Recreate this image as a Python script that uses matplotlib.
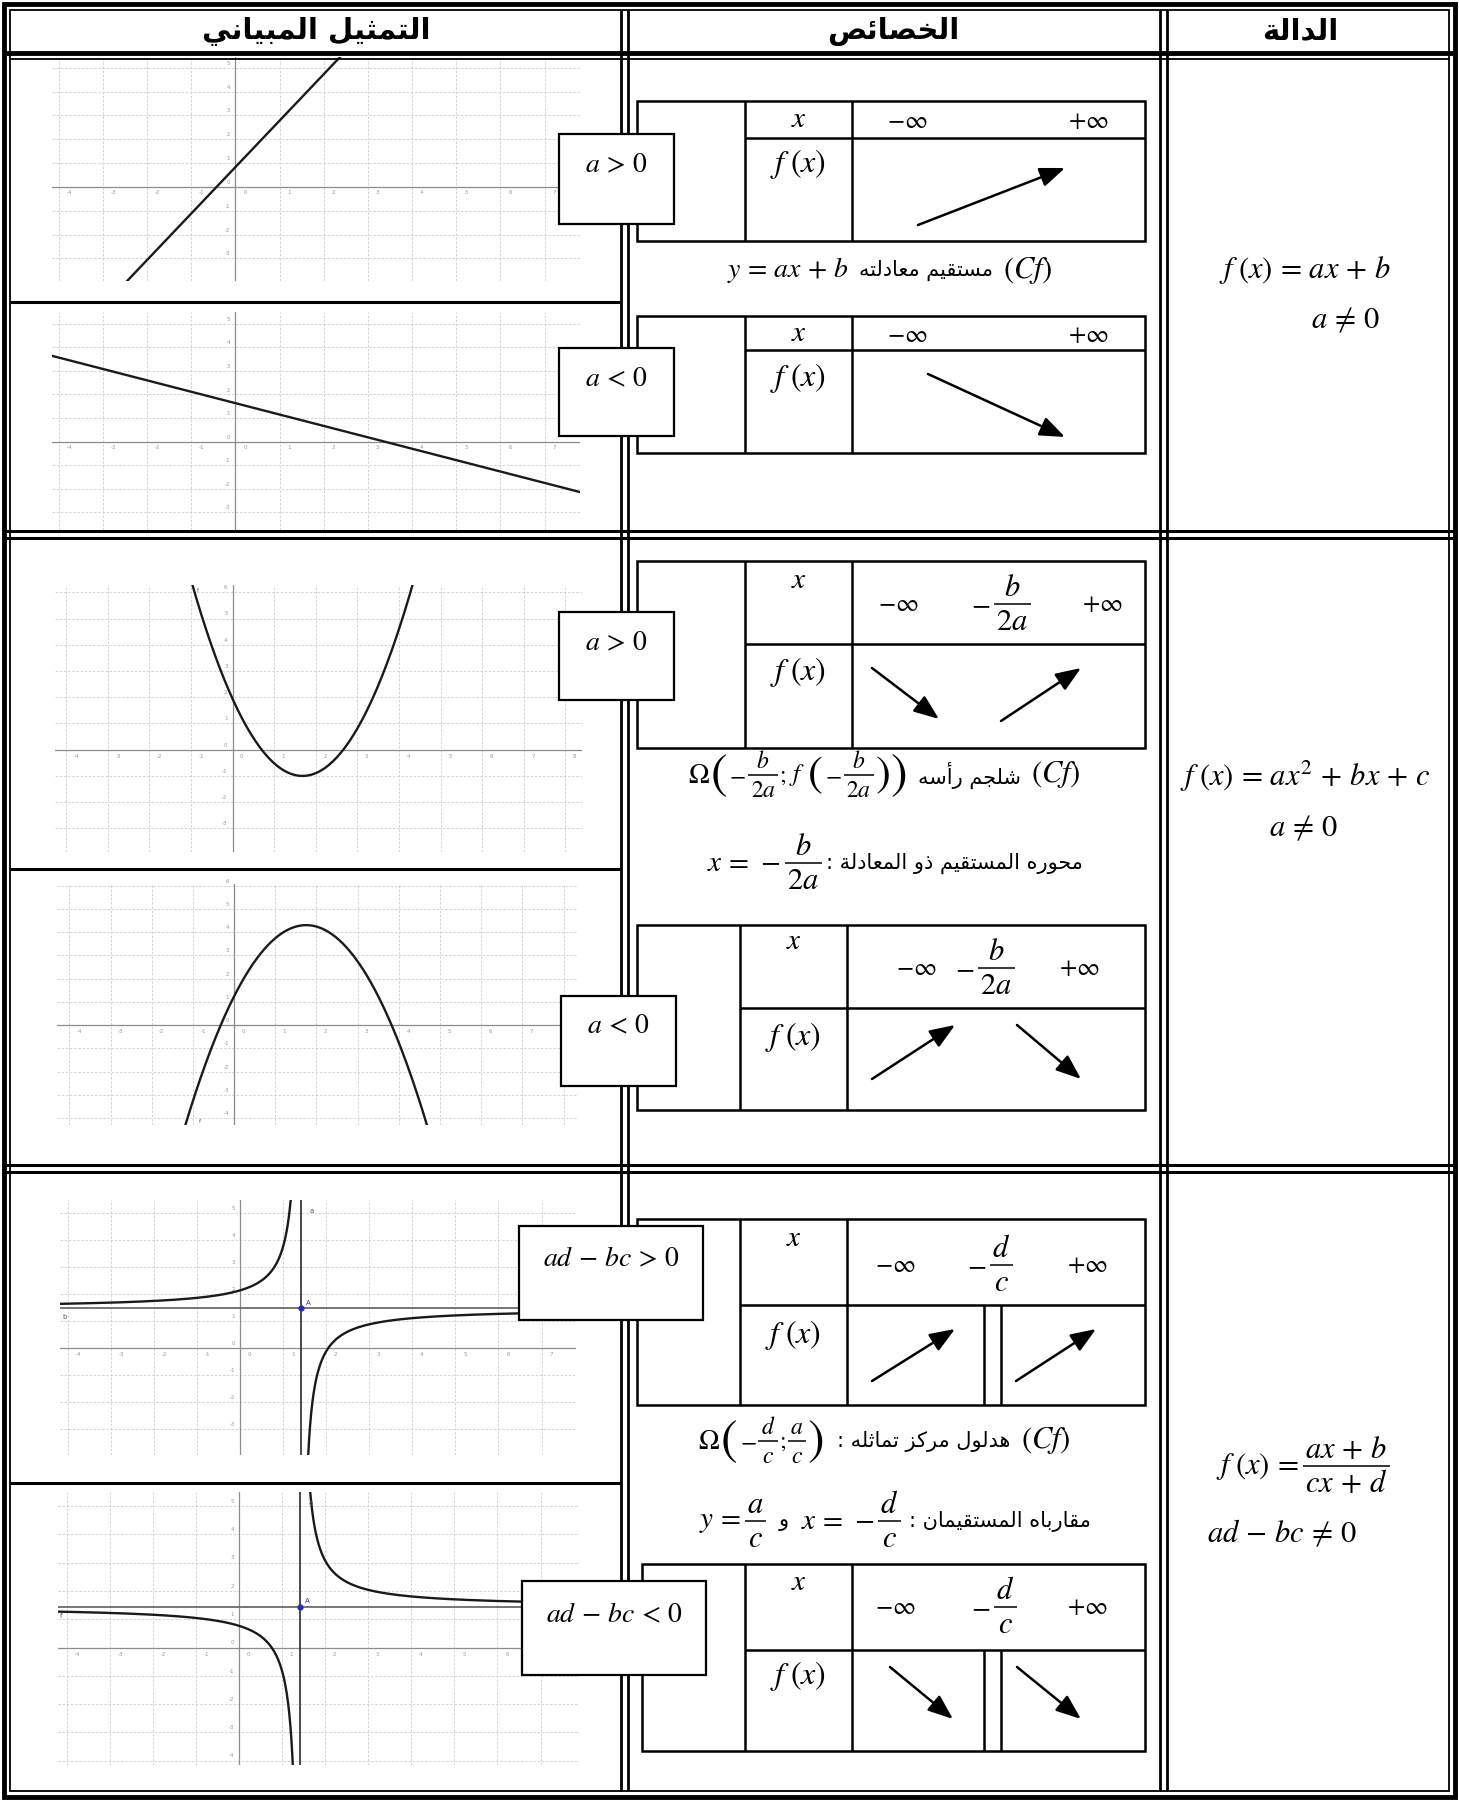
import numpy as np
import matplotlib.pyplot as plt
from matplotlib.patches import Rectangle

plt.rcParams['mathtext.fontset'] = 'stix'
plt.rcParams['font.family'] = ['DejaVu Sans']

# values
headers = ['التمثيل المبياني', 'الخصائص', 'الدالة']

lin_up_x = [-2.45, 2.37]
lin_up_y = [-3.95, 5.45]
lin_down_x = [-4.15, 7.8]
lin_down_y = [3.64, -2.14]
quad_up = [1.04, 1.68, -1.0]      # a, vertex x, vertex y
quad_down = [-1.0, 1.75, 4.3]
hyp_up = [-0.94, 1.41, 1.48]      # k, vertical asymptote, horizontal asymptote
hyp_down = [0.95, 1.42, 1.44]

cond_labels = [r'$a\,>\,0$', r'$a\,<\,0$', r'$a\,>\,0$', r'$a\,<\,0$',
               r'$ad\,-\,bc\,>\,0$', r'$ad\,-\,bc\,<\,0$']

W, H = 1459, 1800
fig = plt.figure(figsize=(W / 100, H / 100), dpi=100)

# small arabic shaper (matplotlib has no bidi / joining)
DUAL = {'ب': 0xFE8F, 'ت': 0xFE95, 'ث': 0xFE99, 'ج': 0xFE9D, 'ح': 0xFEA1,
        'خ': 0xFEA5, 'س': 0xFEB1, 'ش': 0xFEB5, 'ص': 0xFEB9, 'ع': 0xFEC9,
        'ف': 0xFED1, 'ق': 0xFED5, 'ك': 0xFED9, 'ل': 0xFEDD, 'م': 0xFEE1,
        'ن': 0xFEE5, 'ه': 0xFEE9, 'ي': 0xFEF1, 'ئ': 0xFE89}
RIGHT = {'ا': 0xFE8D, 'أ': 0xFE83, 'ة': 0xFE93, 'د': 0xFEA9, 'ذ': 0xFEAB,
         'ر': 0xFEAD, 'ز': 0xFEAF, 'و': 0xFEED}
LAM_ALEF = {'ا': 0xFEFB, 'أ': 0xFEF7}


def ar(s):
    out = []
    i = 0
    while i < len(s):
        c = s[i]
        linked = i > 0 and s[i - 1] in DUAL
        if c == 'ل' and i + 1 < len(s) and s[i + 1] in LAM_ALEF:
            out.append(chr(LAM_ALEF[s[i + 1]] + int(linked)))
            i += 2
            continue
        if c in DUAL or c in RIGHT:
            base = DUAL.get(c, RIGHT.get(c))
            nxt = c in DUAL and i + 1 < len(s) and (s[i + 1] in DUAL or s[i + 1] in RIGHT)
            if linked and nxt:
                out.append(chr(base + 3))
            elif linked:
                out.append(chr(base + 1))
            elif nxt:
                out.append(chr(base + 2))
            else:
                out.append(chr(base))
        else:
            out.append(c)
        i += 1
    return ''.join(out)[::-1]


def graph(px, xlim, ylim):
    x0, y0, x1, y1 = px
    ax = fig.add_axes([x0 / W, 1 - y1 / H, (x1 - x0) / W, (y1 - y0) / H])
    ax.set_xlim(xlim)
    ax.set_ylim(ylim)
    ax.axis('off')
    for gx in range(int(np.ceil(xlim[0])), int(np.floor(xlim[1])) + 1):
        ax.axvline(gx, color='#cdcdcd', lw=0.6, ls=(0, (3, 2)), zorder=0)
        ax.text(gx + 0.18, -0.15, str(gx), fontsize=4, color='#999999', ha='left', va='top')
    for gy in range(int(np.ceil(ylim[0])), int(np.floor(ylim[1])) + 1):
        ax.axhline(gy, color='#cdcdcd', lw=0.6, ls=(0, (3, 2)), zorder=0)
        ax.text(-0.12, gy + 0.08, str(gy), fontsize=4, color='#999999', ha='right', va='bottom')
    ax.axhline(0, color='#8c8c8c', lw=0.9, zorder=1)
    ax.axvline(0, color='#8c8c8c', lw=0.9, zorder=1)
    return ax


curve_kw = dict(color='#1a1a1a', lw=1.7, zorder=3)

g1 = graph((52, 57, 580, 281), (-4.15, 7.8), (-3.95, 5.45))
g1.plot(lin_up_x, lin_up_y, **curve_kw)

g2 = graph((52, 312, 580, 530), (-4.15, 7.8), (-3.75, 5.5))
g2.plot(lin_down_x, lin_down_y, **curve_kw)

g3 = graph((55, 585, 582, 852), (-4.27, 8.4), (-3.9, 6.28))
xs = np.linspace(-4.27, 8.4, 600)
g3.plot(xs, quad_up[0] * (xs - quad_up[1]) ** 2 + quad_up[2], **curve_kw)
g3.text(-0.85, 6.0, 'f', fontsize=4, color='#555555')

g4 = graph((57, 884, 578, 1125), (-4.3, 8.35), (-4.3, 6.07))
xs = np.linspace(-4.3, 8.35, 600)
g4.plot(xs, quad_down[0] * (xs - quad_down[1]) ** 2 + quad_down[2], **curve_kw)
g4.text(-0.85, -4.2, 'f', fontsize=4, color='#555555')


def hyperbola(ax, p, xlim, ylim, side_label):
    k, h, v = p
    dl = np.geomspace(0.005, h - xlim[0], 500)
    dr = np.geomspace(0.005, xlim[1] - h, 500)
    ax.plot(h - dl, v + k / (-dl), **curve_kw)
    ax.plot(h + dr, v + k / dr, **curve_kw)
    ax.axvline(h, color='#3a3a3a', lw=1.3, zorder=2)
    ax.axhline(v, color='#6a6a6a', lw=1.3, zorder=2)
    ax.plot([h], [v], 'o', ms=3.5, color='#2b2bb0', zorder=4)
    ax.text(h + 0.12, v + 0.12, 'A', fontsize=5, color='#2b2bb0')
    ax.text(h + 0.2, ylim[1] - 0.3, 'a', fontsize=5, color='#555555', va='top')
    ax.text(xlim[0] + 0.05, v - 0.2, side_label, fontsize=5, color='#555555', va='top')


g5 = graph((60, 1200, 576, 1455), (-4.18, 7.8), (-3.96, 5.5))
hyperbola(g5, hyp_up, (-4.18, 7.8), (-3.96, 5.5), 'b')

g6 = graph((58, 1492, 578, 1765), (-4.2, 7.87), (-4.15, 5.5))
hyperbola(g6, hyp_down, (-4.2, 7.87), (-4.15, 5.5), 'f')

# table layer, pixel coordinates
tab = fig.add_axes([0, 0, 1, 1])
tab.set_xlim(0, W)
tab.set_ylim(H, 0)
tab.axis('off')
tab.set_facecolor('none')
renderer = fig.canvas.get_renderer()


def L(x0, y0, x1, y1, lw=1.8, z=2):
    tab.plot([x0, x1], [y0, y1], color='k', lw=lw, solid_capstyle='butt', zorder=z)


# outer frame
tab.add_patch(Rectangle((4, 4), W - 8, H - 7, fill=False, ec='k', lw=3.5, zorder=2))
tab.add_patch(Rectangle((10, 10), W - 20, H - 19, fill=False, ec='k', lw=1.3, zorder=2))
L(4, 53, W - 4, 53, lw=3.5)
L(10, 59, W - 10, 59, lw=1.3)
for cx in (621, 628, 1160, 1167):
    L(cx, 10, cx, H - 9, lw=2.0)
for ry in (531, 538, 1165, 1172):
    L(4, ry, W - 4, ry, lw=2.2)
for ry in (302, 869, 1483):
    L(10, ry, 621, ry, lw=2.2)

for txt, xc in zip(headers, (316, 893, 1300)):
    tab.text(xc, 31, ar(txt), fontsize=21, fontweight='bold', ha='center', va='center')


def width(t):
    return t.get_window_extent(renderer).width


def mixed(pieces, xc, y, z=4):
    # left to right; ('T', text, size, gap) or ('F', num, den, size, gap) for a fraction
    items = []
    for p in pieces:
        if p[0] == 'F':
            tn = tab.text(0, y, p[1], fontsize=p[3], ha='center', va='bottom', zorder=z)
            td = tab.text(0, y, p[2], fontsize=p[3], ha='center', va='top', zorder=z)
            items.append((tn, td, max(width(tn), width(td)) + 5, p[4]))
        else:
            t = tab.text(0, y, p[1], fontsize=p[2], ha='left', va='center', zorder=z)
            items.append((t, None, width(t), p[3]))
    total = sum(w + g for _, _, w, g in items) - items[-1][3]
    x = xc - total / 2
    for a, b, w, g in items:
        if b is None:
            a.set_x(x)
        else:
            a.set_position((x + w / 2, y - 2))
            b.set_position((x + w / 2, y + 3))
            L(x, y, x + w, y, lw=1.1, z=z)
        x += w + g


def cond_box(x0, y0, x1, y1, label, ty):
    tab.add_patch(Rectangle((x0, y0), x1 - x0, y1 - y0, fc='white', ec='k', lw=1.6, zorder=5))
    tab.text((x0 + x1) / 2, ty, label, fontsize=20, ha='center', va='center', zorder=6)


cond_box(559, 134, 674, 224, cond_labels[0], 164)
cond_box(559, 348, 674, 436, cond_labels[1], 378)
cond_box(559, 612, 674, 700, cond_labels[2], 642)
cond_box(561, 996, 676, 1086, cond_labels[3], 1025)
cond_box(519, 1226, 703, 1320, cond_labels[4], 1258)
cond_box(522, 1581, 706, 1675, cond_labels[5], 1614)


def arrow(p0, p1):
    tab.annotate('', xy=p1, xytext=p0,
                 arrowprops=dict(arrowstyle='-|>,head_length=0.9,head_width=0.35',
                                 color='k', lw=1.8, shrinkA=0, shrinkB=0, mutation_scale=17))


def var_table(x0, x1, y0, ym, y1, c1, c2, xrow, fpos):
    tab.add_patch(Rectangle((x0, y0), x1 - x0, y1 - y0, fill=False, ec='k', lw=1.8, zorder=3))
    L(c1, y0, c1, y1, z=3)
    L(c2, y0, c2, y1, z=3)
    L(c1, ym, x1, ym, z=3)
    tab.text((c1 + c2) / 2, xrow, r'$x$', fontsize=21, ha='center', va='center')
    tab.text((c1 + c2) / 2, fpos, r'$f\;\left(x\right)$', fontsize=23, ha='center', va='center')


def bars(x, y0, y1):
    L(x, y0, x, y1, z=3)
    L(x + 17, y0, x + 17, y1, z=3)


inf_kw = dict(fontsize=18, ha='center', va='center')


def crit(num, den, xc, y):
    mixed([('T', r'$-$', 20, 3), ('F', num, den, 22, 0)], xc, y)


# row 1 tables
var_table(637, 1145, 101, 138, 241, 745, 852, 119, 164)
tab.text(907, 121, r'$-\infty$', **inf_kw)
tab.text(1088, 121, r'$+\infty$', **inf_kw)
arrow((918, 225), (1065, 168))

var_table(637, 1145, 316, 350, 453, 745, 852, 333, 378)
tab.text(907, 335, r'$-\infty$', **inf_kw)
tab.text(1088, 335, r'$+\infty$', **inf_kw)
arrow((928, 374), (1065, 437))

# row 2 tables
var_table(637, 1145, 561, 644, 748, 745, 852, 580, 672)
tab.text(898, 604, r'$-\infty$', **inf_kw)
crit(r'$b$', r'$2a$', 1001, 604)
tab.text(1102, 604, r'$+\infty$', **inf_kw)
arrow((872, 668), (939, 719))
arrow((1001, 721), (1081, 668))

var_table(637, 1145, 925, 1008, 1110, 740, 847, 941, 1037)
tab.text(916, 968, r'$-\infty$', **inf_kw)
crit(r'$b$', r'$2a$', 985, 968)
tab.text(1079, 968, r'$+\infty$', **inf_kw)
arrow((872, 1079), (955, 1025))
arrow((1017, 1025), (1081, 1079))

# row 3 tables
var_table(637, 1145, 1219, 1305, 1405, 740, 847, 1238, 1335)
tab.text(895, 1265, r'$-\infty$', **inf_kw)
crit(r'$d$', r'$c$', 990, 1265)
tab.text(1087, 1265, r'$+\infty$', **inf_kw)
bars(984, 1305, 1405)
arrow((872, 1381), (955, 1329))
arrow((1016, 1381), (1096, 1329))

var_table(642, 1145, 1564, 1650, 1751, 745, 852, 1582, 1676)
tab.text(895, 1607, r'$-\infty$', **inf_kw)
crit(r'$d$', r'$c$', 994, 1607)
tab.text(1087, 1607, r'$+\infty$', **inf_kw)
bars(984, 1650, 1751)
arrow((890, 1667), (953, 1719))
arrow((1017, 1667), (1081, 1719))

# mixed math / arabic lines
cf = ('T', r'$\left(Cf\right)$', 22, 0)
mixed([('T', r'$y\,=\,ax\,+\,b$', 20, 10), ('T', ar('مستقيم معادلته'), 15, 10), cf], 890, 270)
mixed([('T', r'$\Omega$', 20, 1), ('T', r'$($', 36, 2), ('T', r'$-$', 17, 2),
       ('F', r'$b$', r'$2a$', 17, 1), ('T', r'$;$', 17, 3), ('T', r'$f$', 18, 2),
       ('T', r'$($', 32, 2), ('T', r'$-$', 17, 2), ('F', r'$b$', r'$2a$', 17, 1),
       ('T', r'$)$', 32, 0), ('T', r'$)$', 36, 12),
       ('T', ar('شلجم رأسه'), 15, 10), cf], 884, 775)
mixed([('T', r'$x\,=\,-$', 21, 4), ('F', r'$b$', r'$2a$', 22, 4),
       ('T', ar('محوره المستقيم ذو المعادلة :'), 15, 0)], 895, 863)
mixed([('T', r'$\Omega$', 20, 1), ('T', r'$($', 36, 2), ('T', r'$-$', 17, 2),
       ('F', r'$d$', r'$c$', 17, 1), ('T', r'$;$', 17, 2), ('F', r'$a$', r'$c$', 17, 1),
       ('T', r'$)$', 36, 14), ('T', ar('هدلول مركز تماثله :'), 15, 10), cf], 884, 1441)
mixed([('T', r'$y\,=$', 21, 4), ('F', r'$a$', r'$c$', 22, 12), ('T', ar('و'), 15, 12),
       ('T', r'$x\,=\,-$', 21, 4), ('F', r'$d$', r'$c$', 22, 8),
       ('T', ar('مقارباه المستقيمان :'), 15, 0)], 895, 1521)

# function column
fn_kw = dict(fontsize=22, ha='center', va='center')
tab.text(1305, 270, r'$f\;\left(x\right)\,=\,ax\,+\,b$', **fn_kw)
tab.text(1345, 320, r'$a\,\neq\,0$', **fn_kw)
tab.text(1305, 776, r'$f\;\left(x\right)\,=\,ax^{2}\,+\,bx\,+\,c$', **fn_kw)
tab.text(1303, 828, r'$a\,\neq\,0$', **fn_kw)
mixed([('T', r'$f\;\left(x\right)\,=$', 22, 4),
       ('F', r'$ax\,+\,b$', r'$cx\,+\,d$', 22, 0)], 1303, 1466)
tab.text(1282, 1533, r'$ad\,-\,bc\,\neq\,0$', **fn_kw)

fig.savefig('out.png', dpi=100)
